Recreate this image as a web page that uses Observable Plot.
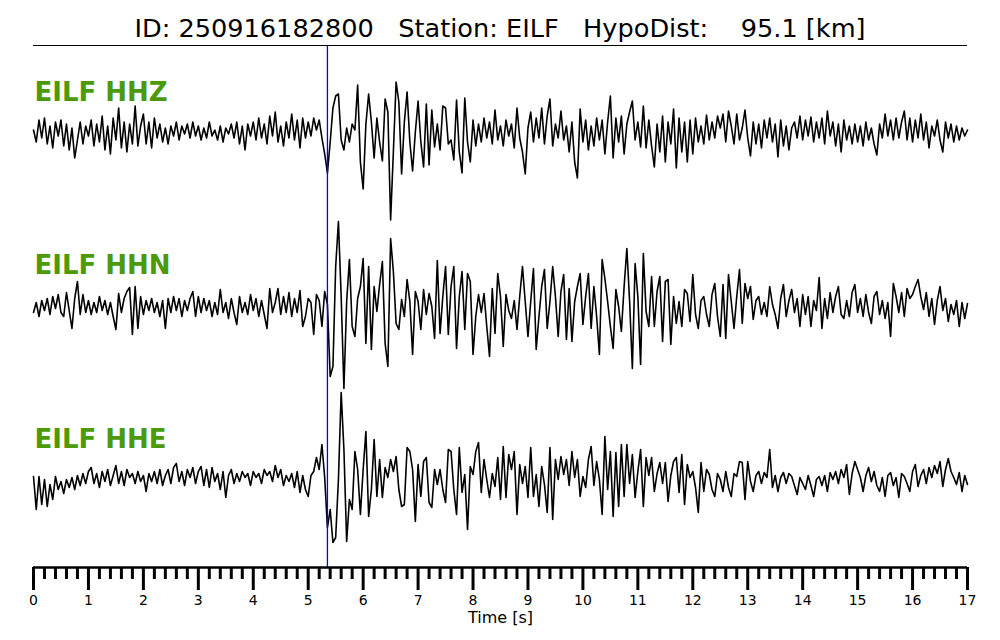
<!DOCTYPE html>
<html>
<head>
<meta charset="utf-8">
<script src="https://cdn.jsdelivr.net/npm/d3@7"></script>
<script src="https://cdn.jsdelivr.net/npm/@observablehq/plot@0.6"></script>
<style>
  html, body { margin: 0; padding: 0; background: #fff; }
  body { width: 1000px; height: 640px; overflow: hidden; font-family: "DejaVu Sans", sans-serif; }
  #title {
    box-sizing: border-box; height: 46px; margin: 0 33px; padding-top: 13px;
    line-height: 30px; font-size: 25.6px; text-align: center; white-space: pre;
    border-bottom: 1.5px solid #000; color: #000;
  }
  #chart svg { display: block; }
</style>
</head>
<body>
<div id="title"></div>
<div id="chart"></div>
<script>
// ---- data ----
const titleText = "ID: 250916182800   Station: EILF   HypoDist:    95.1 [km]";
const channels = ["EILF HHZ", "EILF HHN", "EILF HHE"];
const dt = 0.05;          // sample interval [s]
const pickTime = 5.35;     // P pick [s]
const xTicksMajor = [0,1,2,3,4,5,6,7,8,9,10,11,12,13,14,15,16,17];
const xLabel = "Time [s]";

const hhz = [
  2,-10,12,-6,14,-12,6,-16,10,-4,12,-14,8,-18,4,-26,-8,10,-12,6,
  -4,12,-14,8,-10,16,-18,6,-22,14,-8,24,-16,10,-20,8,-12,26,-14,6,
  18,-12,10,-16,14,-6,8,-10,4,-12,6,-4,10,-8,6,-2,8,-6,10,-4,
  6,-8,4,-6,10,-4,2,-8,6,-10,4,-2,8,-6,10,-12,6,-18,8,-4,
  10,-8,14,-6,8,-12,16,-4,20,-10,6,-14,10,-6,18,-8,12,-16,14,-6,
  10,-4,14,2,12,-6,-22,-41,-10,24,36,38,-8,-18,4,-10,8,2,47,-30,
  -57,8,38,10,-26,14,-10,-29,33,20,-88,-20,50,30,-42,10,40,-10,-39,0,
  31,-10,-35,28,-33,22,-15,8,-18,26,24,-12,-8,-28,32,-20,-41,34,-10,-30,
  12,-14,8,-10,14,-6,10,-12,22,-8,6,-14,12,-4,8,-16,24,-6,-20,-42,
  4,20,-10,14,-6,24,-12,16,33,-14,8,-6,21,-8,6,-20,10,-30,-46,23,
  -10,12,-18,6,-14,14,-8,12,-22,10,36,-26,14,-10,16,-22,8,20,31,-8,
  10,-15,26,-16,12,-14,-35,8,-20,16,-30,10,-12,23,-36,14,-20,10,-30,12,
  -22,14,-10,6,-12,17,-8,10,-6,16,4,18,-10,21,6,-12,18,-8,4,22,
  -6,-24,10,-12,8,-16,12,-6,14,-10,8,-25,12,-14,6,-18,4,10,-6,16,
  -8,12,-4,15,-10,10,-6,14,-12,21,-4,10,-14,8,-20,12,-8,6,-12,8,
  -10,6,-14,10,-8,4,-12,-23,8,-6,18,-4,12,-8,14,-6,10,21,-8,14,
  -10,12,-6,18,-8,10,-16,6,-4,12,-8,-20,10,-6,8,-10,6,-8,4,-4,
  2
];

const hhn = [
  -6,4,-10,6,-4,8,-8,10,-2,12,-6,-10,14,-4,-22,8,25,-8,12,-6,
  6,-8,4,-6,10,-4,6,-8,4,-10,-23,13,-6,8,15,19,-28,20,-22,10,
  -8,6,-4,8,-6,4,-10,6,-22,8,-6,10,-4,8,-10,6,-4,8,15,-10,
  10,-6,8,-4,6,-10,4,-8,17,-6,4,-12,8,-6,-18,10,-6,4,-8,12,
  -4,8,-10,6,-8,-22,18,-6,4,18,-8,10,-6,14,-10,8,-6,16,-20,-10,
  8,4,-28,12,6,-20,15,2,-70,-60,40,85,10,-82,5,47,-20,-30,8,20,
  48,-37,40,-43,20,-5,22,45,-37,-60,68,35,-17,-23,7,-10,27,5,-48,15,
  5,-23,17,-8,13,0,-32,46,-27,10,40,-28,20,40,-42,10,35,-23,33,25,
  -48,-10,12,-6,13,-20,-50,18,-27,33,10,-40,12,-4,-12,6,-23,10,40,5,
  -30,5,38,-43,-10,20,37,-22,5,40,10,-30,15,32,-33,18,-35,5,20,33,
  -18,10,33,-22,20,-10,-48,47,28,5,-20,-42,17,0,-25,20,58,5,-62,43,
  10,-58,53,-5,-20,30,-20,15,30,-35,25,27,-38,10,-17,5,-20,17,13,-15,
  32,-8,-22,6,10,-8,-20,12,23,-10,-30,22,-32,32,5,-22,10,37,-17,23,
  8,20,-13,6,10,-8,4,-10,20,2,-8,-22,8,22,-10,6,17,-6,8,-20,
  12,-8,10,-20,6,-4,29,-22,8,-12,14,-6,10,20,-8,-12,6,-10,14,22,
  -6,8,-10,12,-6,-17,10,15,-8,6,-12,4,-30,23,10,-6,14,-10,18,8,
  12,20,27,10,-3,14,-10,8,-18,6,20,-4,8,-15,2,-8,6,-20,4,-12,
  3
];

const hhe = [
  3,-30,3,-25,0,-27,-5,-20,3,-10,-2,-14,0,-8,2,-10,4,-6,6,-4,
  8,12,-4,6,-8,8,-2,10,-6,4,14,-4,8,-6,10,2,6,-4,8,-2,
  4,-12,6,-2,8,-4,10,-6,4,10,-4,12,16,-2,8,-6,10,2,12,-4,
  8,13,-6,10,-8,12,-2,6,-10,8,-18,4,10,-4,6,-2,8,2,6,-6,
  8,2,6,-4,10,4,8,-2,14,2,10,-6,4,-2,6,-8,8,-13,4,-10,
  -17,4,8,22,10,35,2,-48,-30,-63,-58,0,87,30,-62,-20,-30,28,10,-35,
  10,48,-37,-10,40,-17,20,-18,12,2,20,8,23,-10,-27,-25,32,28,10,-42,
  15,-17,18,22,-23,-28,10,-5,10,-10,-23,30,28,-10,-35,32,-13,5,-50,13,
  5,28,37,-13,20,0,-18,6,-7,22,-20,33,-18,25,10,28,-35,15,-4,13,
  -18,32,-17,5,-27,13,-5,-33,32,-40,20,0,23,5,20,-6,28,2,20,-17,
  3,-8,20,33,-6,18,0,-35,43,-10,28,-37,27,-27,35,-17,35,-4,25,-18,
  8,30,-27,22,4,22,-12,6,17,-4,17,-22,4,18,22,-13,25,-25,15,2,
  8,-8,-33,17,-12,10,5,-10,-17,6,0,-12,8,-8,-17,6,3,18,17,-20,
  18,-2,-12,4,8,-4,7,2,30,-8,4,-12,2,7,-4,6,3,-6,-15,2,
  -4,-10,4,-6,-17,0,3,-6,4,-12,7,0,8,-4,10,2,15,-15,6,18,
  10,2,-12,4,12,-2,8,-6,-12,2,-17,4,7,-6,2,-18,6,3,-4,-12,
  8,15,-7,4,10,-4,12,2,14,6,18,-7,10,21,8,2,-5,7,-12,4,
  -5
];

// ---- layout constants (pixels) ----
const W = 1000, H = 594, mL = 33, mR = 33, mB = 73;
const plotH = H - mB;                 // 521
const centers = [435.5, 261, 88];     // baseline of each trace in y units (1 unit = 1 px)
const labelBase = [467, 294, 120];

const traces = [hhz, hhn, hhe];
const rows = [];
traces.forEach((arr, k) => {
  arr.forEach((v, i) => rows.push({ch: channels[k], t: +(i * dt).toFixed(3), y: centers[k] + v}));
});
const labels = channels.map((c, k) => ({ch: c, y: labelBase[k]}));
const minorTicks = d3.range(0, 17.0001, 0.2).map(d => +d.toFixed(1)).filter(d => Math.abs(d - Math.round(d)) > 1e-6);

document.getElementById("title").textContent = titleText;

const chart = Plot.plot({
  width: W, height: H,
  marginLeft: mL, marginRight: mR, marginTop: 0, marginBottom: mB,
  style: {fontFamily: "DejaVu Sans, sans-serif", overflow: "visible", background: "#fff"},
  x: {domain: [0, 17], axis: null, label: null},
  y: {domain: [0, plotH], axis: null, label: null},
  marks: [
    Plot.line(rows, {x: "t", y: "y", z: "ch", stroke: "#000", strokeWidth: 1.6, curve: "linear"}),
    Plot.ruleX([pickTime], {y1: 0, y2: plotH, stroke: "#0000ff", strokeWidth: 1.3}),
    Plot.text(labels, {x: 0, y: "y", text: "ch", textAnchor: "start", lineAnchor: "bottom",
      fill: "#4c9a0a", fontWeight: "bold", fontSize: 26, dx: 1}),
    Plot.ruleY([0], {x1: 0, x2: 17, stroke: "#000", strokeWidth: 2.5}),
    Plot.axisX({ticks: minorTicks, tickSize: 12, text: null, label: null, strokeWidth: 3, stroke: "#000"}),
    Plot.axisX({ticks: xTicksMajor, tickSize: 23, tickPadding: 5, strokeWidth: 3, stroke: "#000",
      tickFormat: d => String(d), fontSize: 14, fill: "#000", label: null}),
    Plot.text([xLabel], {x: 8.5, y: 0, dy: 50, text: d => d, fontSize: 16, fill: "#000", lineAnchor: "middle"})
  ]
});
document.getElementById("chart").appendChild(chart);
</script>
</body>
</html>
